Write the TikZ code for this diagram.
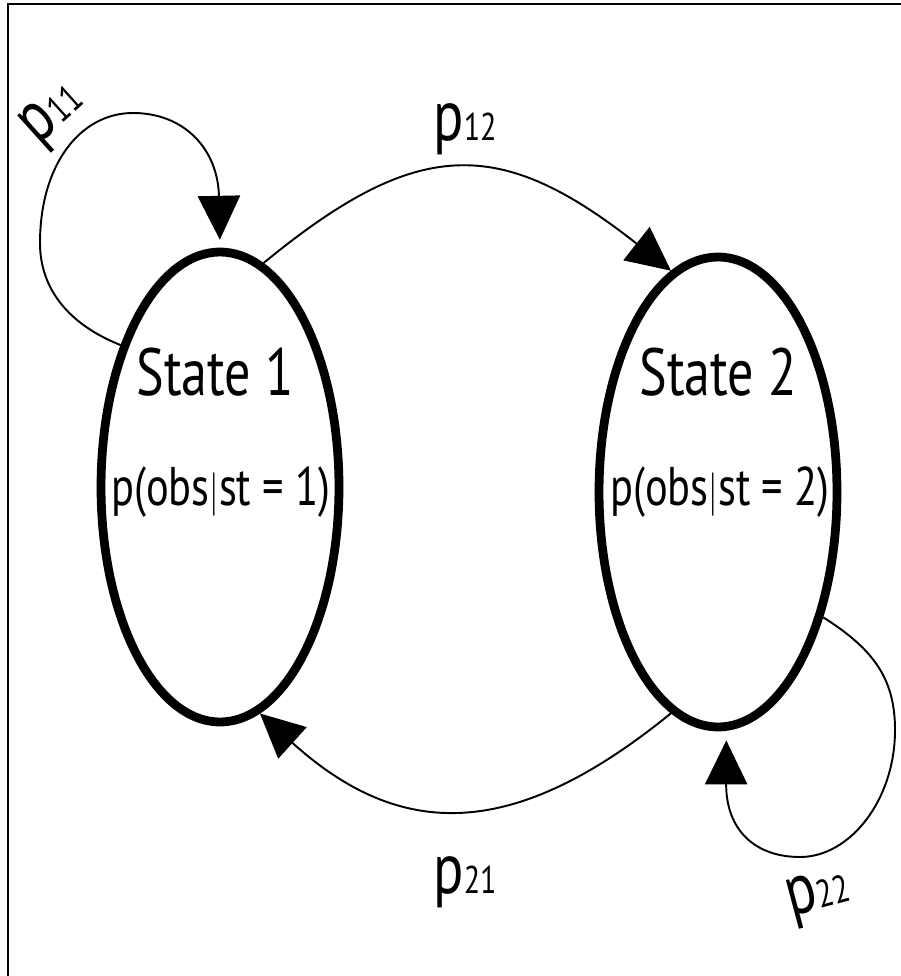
\documentclass[tikz,border=0pt]{standalone}
\usepackage{fontspec}
\usepackage{graphicx}
\setmainfont{PT Sans}
\usetikzlibrary{shapes.geometric,arrows.meta}
\tikzset{
  statebox/.style={draw, ellipse, line width=5pt, inner sep=0pt,
    minimum width=4.76cm, minimum height=9.4cm},
  conn/.style={line width=1.1pt, -{Triangle[length=25pt,width=24pt]}},
  titletxt/.style={anchor=base, inner sep=0pt, font=\fontsize{38}{38}\selectfont},
  subtxt/.style={anchor=base, inner sep=0pt, font=\fontsize{31}{31}\selectfont},
  plabel/.style={anchor=base, inner sep=0pt, font=\fontsize{41}{41}\selectfont},
}
\newcommand{\sq}[1]{\scalebox{0.78}[1]{#1}}
\newcommand{\plab}[1]{\sq{p{\fontsize{22}{22}\selectfont #1}}}
\begin{document}
\begin{tikzpicture}[x=0.02cm, y=-0.02cm]
\useasboundingbox (0,0) rectangle (901,976);
\draw[line width=1.1pt] (8,976) -- (8,4) -- (901,4);
\node[statebox] (s1) at (220,487) {};
\node[statebox] (s2) at (718,492) {};
\node[titletxt] (t1) at (215,395) {\sq{State 1}};
\node[subtxt] (o1) at (221,505) {\sq{p(obs$|$st = 1)}};
\node[titletxt] (t2) at (718,395) {\sq{State 2}};
\node[subtxt] (o2) at (720,505) {\sq{p(obs$|$st = 2)}};
\node[plabel] (l12) at (465,141) {\plab{12}};
\node[plabel] (l21) at (465,893) {\plab{21}};
\node[plabel, rotate=42] (l11) at (62,124) {\plab{11}};
\node[plabel, rotate=15] (l22) at (822,908) {\plab{22}};
\draw[conn] (s1.79) .. controls (418,136) and (500,136) .. (s2.102);
\draw[conn] (s2.258) .. controls (514,841) and (401,841) .. (s1.280);
\draw[conn, shorten >=4.5pt] (s1.125) .. controls (70,325) and (40,290) .. (40,243)
   .. controls (40,165) and (80,113) .. (133,113)
   .. controls (185,113) and (218,150) .. (s1.90);
\draw[conn, shorten >=5.5pt] (s2.310) .. controls (875,650) and (895,680) .. (895,730)
   .. controls (895,800) and (850,857) .. (800,857)
   .. controls (755,857) and (726,830) .. (s2.272);
\end{tikzpicture}
\end{document}
